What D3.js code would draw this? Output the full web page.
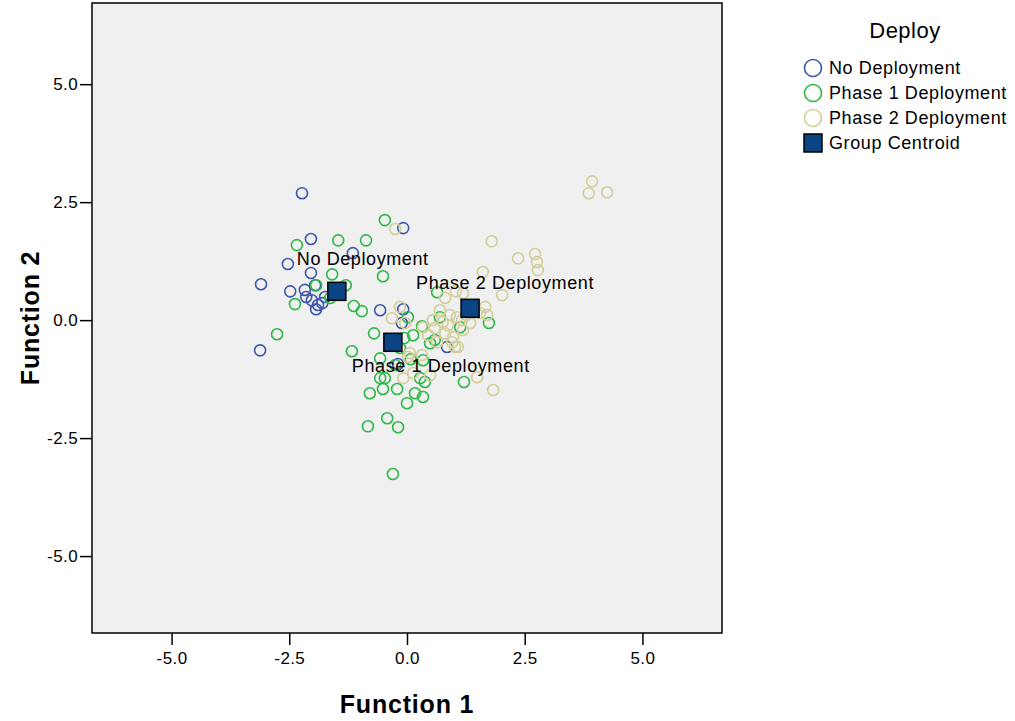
<!DOCTYPE html>
<html>
<head>
<meta charset="utf-8">
<script src="https://cdn.jsdelivr.net/npm/d3@7"></script>
<style>
  body { margin: 0; background: #fff; font-family: "Liberation Sans", Arial, sans-serif; }
</style>
</head>
<body>
<div id="chart"></div>
<script>
// Discriminant scores [function 1, function 2] per group
const noDeployment = [
  [-2.23, 2.69], [-0.08, 1.95], [-2.04, 1.72], [-2.53, 1.19], [-3.10, 0.76],
  [-3.12, -0.64], [-2.04, 1.00], [-2.48, 0.61], [-2.17, 0.64], [-1.95, 0.74],
  [-2.14, 0.49], [-2.02, 0.42], [-1.89, 0.32], [-1.93, 0.23], [-1.74, 0.49],
  [-1.80, 0.36], [-1.15, 1.42], [-0.57, 0.21], [-0.08, 0.23], [-0.11, -0.06],
  [0.85, -0.57], [-0.19, -0.93]
];
const phase1Deployment = [
  [-0.47, 2.12], [-2.34, 1.59], [-1.46, 1.69], [-0.87, 1.69], [-0.51, 0.93],
  [-1.59, 0.97], [-1.93, 0.74], [-1.30, 0.74], [-2.38, 0.34], [-1.13, 0.30],
  [-0.96, 0.19], [-2.76, -0.30], [-1.17, -0.66], [-0.70, -0.28], [0.02, 0.06],
  [0.32, -0.13], [0.13, -0.32], [0.49, -0.49], [0.70, 0.06], [0.64, 0.59],
  [1.74, -0.06], [1.13, -0.15], [0.59, -0.42], [0.08, -0.83], [0.34, -0.85],
  [-0.57, -1.23], [-0.47, -1.23], [-0.79, -1.55], [-0.51, -1.46], [-0.21, -1.46],
  [0.00, -1.76], [0.17, -1.55], [0.34, -1.63], [0.28, -1.23], [0.38, -1.31],
  [1.21, -1.31], [-0.83, -2.25], [-0.42, -2.08], [-0.19, -2.27], [-0.30, -3.26],
  [-0.15, -0.59], [-0.25, -0.95], [-1.63, 0.47], [-0.06, -0.38], [-0.57, -0.81]
];
const phase2Deployment = [
  [3.86, 2.69], [3.93, 2.94], [4.25, 2.71], [1.80, 1.67], [2.36, 1.31],
  [2.72, 1.40], [2.76, 1.23], [2.78, 1.06], [1.61, 1.02], [2.02, 0.53],
  [-0.25, 1.93], [0.81, 0.47], [1.04, 0.61], [1.19, 0.57], [1.55, 0.15],
  [1.70, 0.11], [1.66, 0.28], [0.91, 0.11], [0.76, -0.04], [1.06, 0.06],
  [1.34, -0.06], [0.81, -0.28], [0.98, -0.36], [1.19, -0.21], [0.59, -0.17],
  [1.02, -0.57], [0.45, -0.32], [0.64, -0.47], [0.96, -0.47], [1.08, -0.57],
  [0.87, -0.11], [1.17, 0.00], [-0.04, -0.06], [0.02, -0.78], [0.32, -0.74],
  [0.49, -1.17], [-0.08, -1.23], [-0.32, 0.04], [1.49, -1.21], [1.83, -1.48],
  [1.27, 0.11], [-0.15, 0.28], [0.34, -0.15], [0.55, 0.00], [0.06, -0.70],
  [0.13, -1.12], [0.70, 0.21]
];
const groupNames = ["No Deployment", "Phase 1 Deployment", "Phase 2 Deployment"];
const groupColors = ["#3e58ac", "#2eb848", "#d3ce97"];
const centroids = [[-1.49, 0.61], [-0.30, -0.47], [1.34, 0.25]];
const tickValues = [-5, -2.5, 0, 2.5, 5];

const width = 1015, height = 721;
const frame = { left: 92, right: 722, top: 3, bottom: 633 };

const svg = d3.select("#chart").append("svg")
  .attr("width", width)
  .attr("height", height);

const x = d3.scaleLinear().domain([-6.69, 6.69]).range([frame.left, frame.right]);
const y = d3.scaleLinear().domain([-6.63, 6.72]).range([frame.bottom, frame.top]);

//Plot background and frame
svg.append("rect")
  .attr("x", frame.left).attr("y", frame.top)
  .attr("width", frame.right - frame.left).attr("height", frame.bottom - frame.top)
  .attr("fill", "#f0f0f0").attr("stroke", "#000").attr("stroke-width", 1.5);

//Axes (plain hyphen for negatives, like the original)
const fmt = d => d.toFixed(1);
const xAxis = svg.append("g")
  .attr("transform", `translate(0, ${frame.bottom})`)
  .call(d3.axisBottom(x).tickValues(tickValues).tickFormat(fmt).tickSize(12).tickSizeOuter(0).tickPadding(7));
const yAxis = svg.append("g")
  .attr("transform", `translate(${frame.left}, 0)`)
  .call(d3.axisLeft(y).tickValues(tickValues).tickFormat(fmt).tickSize(12).tickSizeOuter(0).tickPadding(2));
[xAxis, yAxis].forEach(a => {
  a.select(".domain").remove();
  a.selectAll(".tick line").attr("stroke", "#000").attr("stroke-width", 1.5);
  a.selectAll(".tick text").attr("fill", "#000")
    .style("font-family", "'Liberation Sans', Arial, sans-serif")
    .style("font-size", "17px").style("letter-spacing", "0.4px");
});

//Axis titles
svg.append("text")
  .attr("x", (frame.left + frame.right) / 2).attr("y", 713)
  .attr("text-anchor", "middle")
  .style("font-size", "25px").style("font-weight", "bold").style("letter-spacing", "0.8px")
  .text("Function 1");
svg.append("text")
  .attr("transform", `translate(39, ${(frame.top + frame.bottom) / 2}) rotate(-90)`)
  .attr("text-anchor", "middle")
  .style("font-size", "25px").style("font-weight", "bold").style("letter-spacing", "0.8px")
  .text("Function 2");

//Points per group
const groups = [noDeployment, phase1Deployment, phase2Deployment];
const plot = svg.append("g");
groups.forEach((pts, i) => {
  plot.append("g").selectAll("circle")
    .data(pts)
    .join("circle")
    .attr("cx", d => x(d[0]))
    .attr("cy", d => y(d[1]))
    .attr("r", 5.5)
    .attr("fill", "none")
    .attr("stroke", groupColors[i])
    .attr("stroke-width", 1.6);
});

//Centroids
const sq = 18;
plot.append("g").selectAll("rect")
  .data(centroids)
  .join("rect")
  .attr("x", d => x(d[0]) - sq / 2)
  .attr("y", d => y(d[1]) - sq / 2)
  .attr("width", sq).attr("height", sq)
  .attr("fill", "#0b4483")
  .attr("stroke", "#000").attr("stroke-width", 1.5);

//Centroid labels
const labelOffsets = [[-40, -26], [-41, 30], [-54, -19]];
plot.append("g").selectAll("text")
  .data(centroids)
  .join("text")
  .attr("x", (d, i) => x(d[0]) + labelOffsets[i][0])
  .attr("y", (d, i) => y(d[1]) + labelOffsets[i][1])
  .style("font-size", "18px").style("letter-spacing", "0.6px")
  .text((d, i) => groupNames[i]);

//Legend
const legend = svg.append("g");
legend.append("text")
  .attr("x", 905).attr("y", 38)
  .attr("text-anchor", "middle")
  .style("font-size", "22px").style("letter-spacing", "0.5px")
  .text("Deploy");
const legendItems = groupNames.concat(["Group Centroid"]);
const li = legend.selectAll("g.item")
  .data(legendItems)
  .join("g")
  .attr("class", "item")
  .attr("transform", (d, i) => `translate(813, ${68 + i * 25})`);
li.filter((d, i) => i < 3).append("circle")
  .attr("r", 8.5)
  .attr("fill", "none")
  .attr("stroke", (d, i) => groupColors[i])
  .attr("stroke-width", 1.6);
li.filter((d, i) => i === 3).append("rect")
  .attr("x", -9).attr("y", -9).attr("width", 18).attr("height", 18)
  .attr("fill", "#0b4483").attr("stroke", "#000").attr("stroke-width", 1.5);
li.append("text")
  .attr("x", 16).attr("y", 6)
  .style("font-size", "18px").style("letter-spacing", "0.6px")
  .text(d => d);
</script>
</body>
</html>
